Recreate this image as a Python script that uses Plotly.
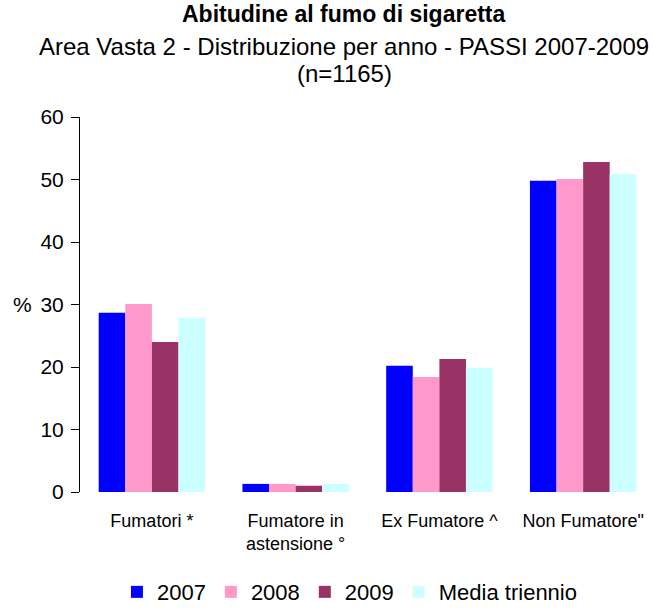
import plotly.graph_objects as go

categories = ["Fumatori *", "Fumatore in<br>astensione °", "Ex Fumatore ^", "Non Fumatore\""]
series_names = ["2007", "2008", "2009", "Media triennio"]
values_2007 = [28.7, 1.3, 20.2, 49.8]
values_2008 = [30.1, 1.3, 18.4, 50.1]
values_2009 = [24.0, 1.0, 21.3, 52.8]
values_media = [27.9, 1.3, 19.9, 50.9]
colors = ["#0000FF", "#FF99CC", "#993366", "#CCFFFF"]
y_ticks = [0, 10, 20, 30, 40, 50, 60]

FONT = "Liberation Sans, Arial, sans-serif"

fig = go.Figure()
for name, vals, col in zip(series_names,
                           [values_2007, values_2008, values_2009, values_media],
                           colors):
    fig.add_trace(go.Bar(x=categories, y=vals, name=name,
                         marker=dict(color=col, line=dict(width=0))))

fig.update_layout(
    width=659, height=611,
    margin=dict(l=80, r=4, t=117, b=119, autoexpand=False),
    paper_bgcolor="white", plot_bgcolor="white",
    barmode="group", bargap=0.26, bargroupgap=0,
    font=dict(family=FONT, color="black"),
    showlegend=True,
    legend=dict(orientation="h", xref="container", yref="container",
                x=0.531, xanchor="center", y=0.031, yanchor="middle",
                font=dict(size=22, family=FONT), itemwidth=30,
                tracegroupgap=0, traceorder="normal"),
)

fig.update_yaxes(range=[0, 60], tickvals=y_ticks, showgrid=False, zeroline=False,
                 showline=True, linecolor="black", linewidth=1,
                 ticks="outside", ticklen=8, tickcolor="black",
                 ticklabelstandoff=3, automargin=False,
                 tickfont=dict(size=21, family=FONT))
fig.update_xaxes(showgrid=False, showline=False, ticks="",
                 ticklabelstandoff=16, automargin=False,
                 tickfont=dict(size=18, family=FONT))

# Title block
title_x = (344 - 80) / 575
fig.add_annotation(text="<b>Abitudine al fumo di sigaretta</b>", xref="paper", yref="paper",
                   x=title_x, y=1, yshift=117 - 14, showarrow=False,
                   font=dict(size=23, family=FONT), xanchor="center", yanchor="middle")
fig.add_annotation(text="Area Vasta 2 - Distribuzione per anno - PASSI 2007-2009", xref="paper", yref="paper",
                   x=title_x, y=1, yshift=117 - 46, showarrow=False,
                   font=dict(size=24, family=FONT), xanchor="center", yanchor="middle")
fig.add_annotation(text="(n=1165)", xref="paper", yref="paper",
                   x=title_x, y=1, yshift=117 - 73, showarrow=False,
                   font=dict(size=24, family=FONT), xanchor="center", yanchor="middle")
# Y axis label
fig.add_annotation(text="%", xref="paper", yref="y", x=0, xshift=-58, y=30,
                   showarrow=False, font=dict(size=21, family=FONT),
                   xanchor="center", yanchor="middle")

fig.write_html("out.html")
